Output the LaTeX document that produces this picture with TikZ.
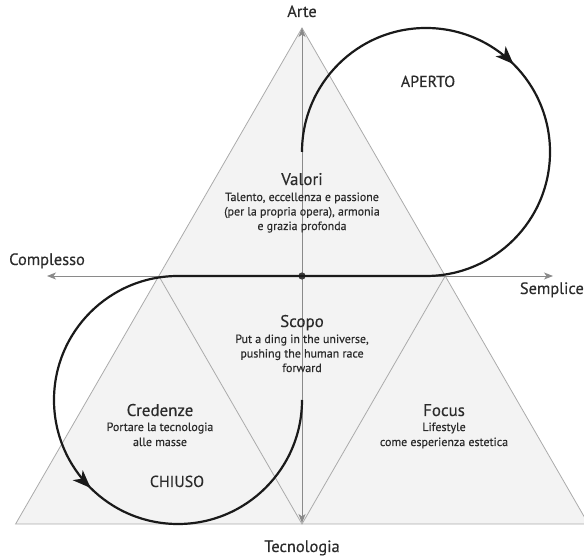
\documentclass[tikz,border=0pt]{standalone}
\usepackage{fontspec}
\setmainfont{PT Sans}[FakeBold=0.35]
\usetikzlibrary{arrows.meta,decorations.markings}
\definecolor{trifill}{HTML}{F3F3F3}
\definecolor{triedge}{HTML}{ABABAB}
\definecolor{axisgray}{HTML}{8A8A8A}
\definecolor{ink}{HTML}{2B2B2B}
\definecolor{loopink}{HTML}{1A1A1A}
\begin{document}
\begin{tikzpicture}[x=1bp,y=1bp,
  edge/.style={draw=triedge,line width=0.8bp},
  axisline/.style={draw=axisgray,line width=0.9bp,{Stealth[length=9bp,width=7bp,inset=2.5bp]}-{Stealth[length=9bp,width=7bp,inset=2.5bp]}},
  looppath/.style={draw=loopink,line width=2.2bp},
  bigtip/.tip={Stealth[length=18bp,width=14bp,inset=5bp]},
  axislabel/.style={text=ink,anchor=base,inner sep=0pt,font=\fontsize{16.5}{19}\selectfont},
  title/.style={text=ink,anchor=base,inner sep=0pt,font=\fontsize{17}{20}\selectfont},
  body/.style={text=ink,anchor=base,inner sep=0pt,font=\fontsize{12}{14}\selectfont},
  flow/.style={text=ink,anchor=base,inner sep=0pt,font=\fontsize{16}{18}\selectfont}]
\useasboundingbox (0,0) rectangle (584,557);
\clip (0,0) rectangle (584,557);

% vertices of the large triangle and of the inverted middle one
\coordinate (apex) at (302,529);
\coordinate (bl) at (15.6,33);
\coordinate (br) at (588.4,33);
\coordinate (ml) at (158.8,281);
\coordinate (mr) at (445.2,281);
\coordinate (bm) at (302,33);
\coordinate (origin) at (302,281);

% axis ends
\coordinate (axleft) at (47,281);
\coordinate (axright) at (553,281);
\coordinate (axtop) at (302,529);
\coordinate (axbottom) at (302,34);

% triangles
\fill[trifill] (apex) -- (br) -- (bl) -- cycle;
\draw[edge] (apex) -- (br) -- (bl) -- cycle;
\draw[edge] (ml) -- (bm) -- (mr);

% axes
\draw[axisline] (axleft) -- (axright);
\draw[axisline] (axbottom) -- (axtop);
\fill[loopink!85!white] (origin) circle[radius=3.6bp];

% open loop above, closed loop below
\coordinate (loopstart) at (302,405);
\draw[looppath,postaction={decorate},
  decoration={markings,
    mark=at position 0.206 with {\arrow{bigtip}},
    mark=at position 0.794 with {\arrow{bigtip}}}]
  (loopstart) arc[start angle=180,end angle=-90,radius=124]
  -- (178,281) arc[start angle=90,end angle=360,radius=124];

% axis labels
\node[axislabel] (arte) at (302,540) {Arte};
\node[axislabel] (tecnologia) at (302,5) {Tecnologia};
\node[axislabel] (complesso) at (47,292) {Complesso};
\node[axislabel,anchor=base east] (semplice) at (584,263) {Semplice};

% loop labels
\node[flow] (aperto) at (428,470) {APERTO};
\node[flow] (chiuso) at (177,70) {CHIUSO};

% Valori
\node[title] (valori) at (302,372) {Valori};
\node[body] (valori1) at (302,356) {Talento, eccellenza e passione};
\node[body] (valori2) at (302,341.5) {(per la propria opera), armonia};
\node[body] (valori3) at (302,327) {e grazia profonda};

% Scopo
\node[title] (scopo) at (302,230) {Scopo};
\node[body] (scopo1) at (302,214) {Put a ding in the universe,};
\node[body] (scopo2) at (302,199.5) {pushing the human race};
\node[body] (scopo3) at (302,185) {forward};

% Credenze
\node[title] (credenze) at (160,141) {Credenze};
\node[body] (credenze1) at (160,126) {Portare la tecnologia};
\node[body] (credenze2) at (160,111) {alle masse};

% Focus
\node[title] (focus) at (444,141) {Focus};
\node[body] (focus1) at (444,126) {Lifestyle};
\node[body] (focus2) at (444,111) {come esperienza estetica};
\end{tikzpicture}
\end{document}
